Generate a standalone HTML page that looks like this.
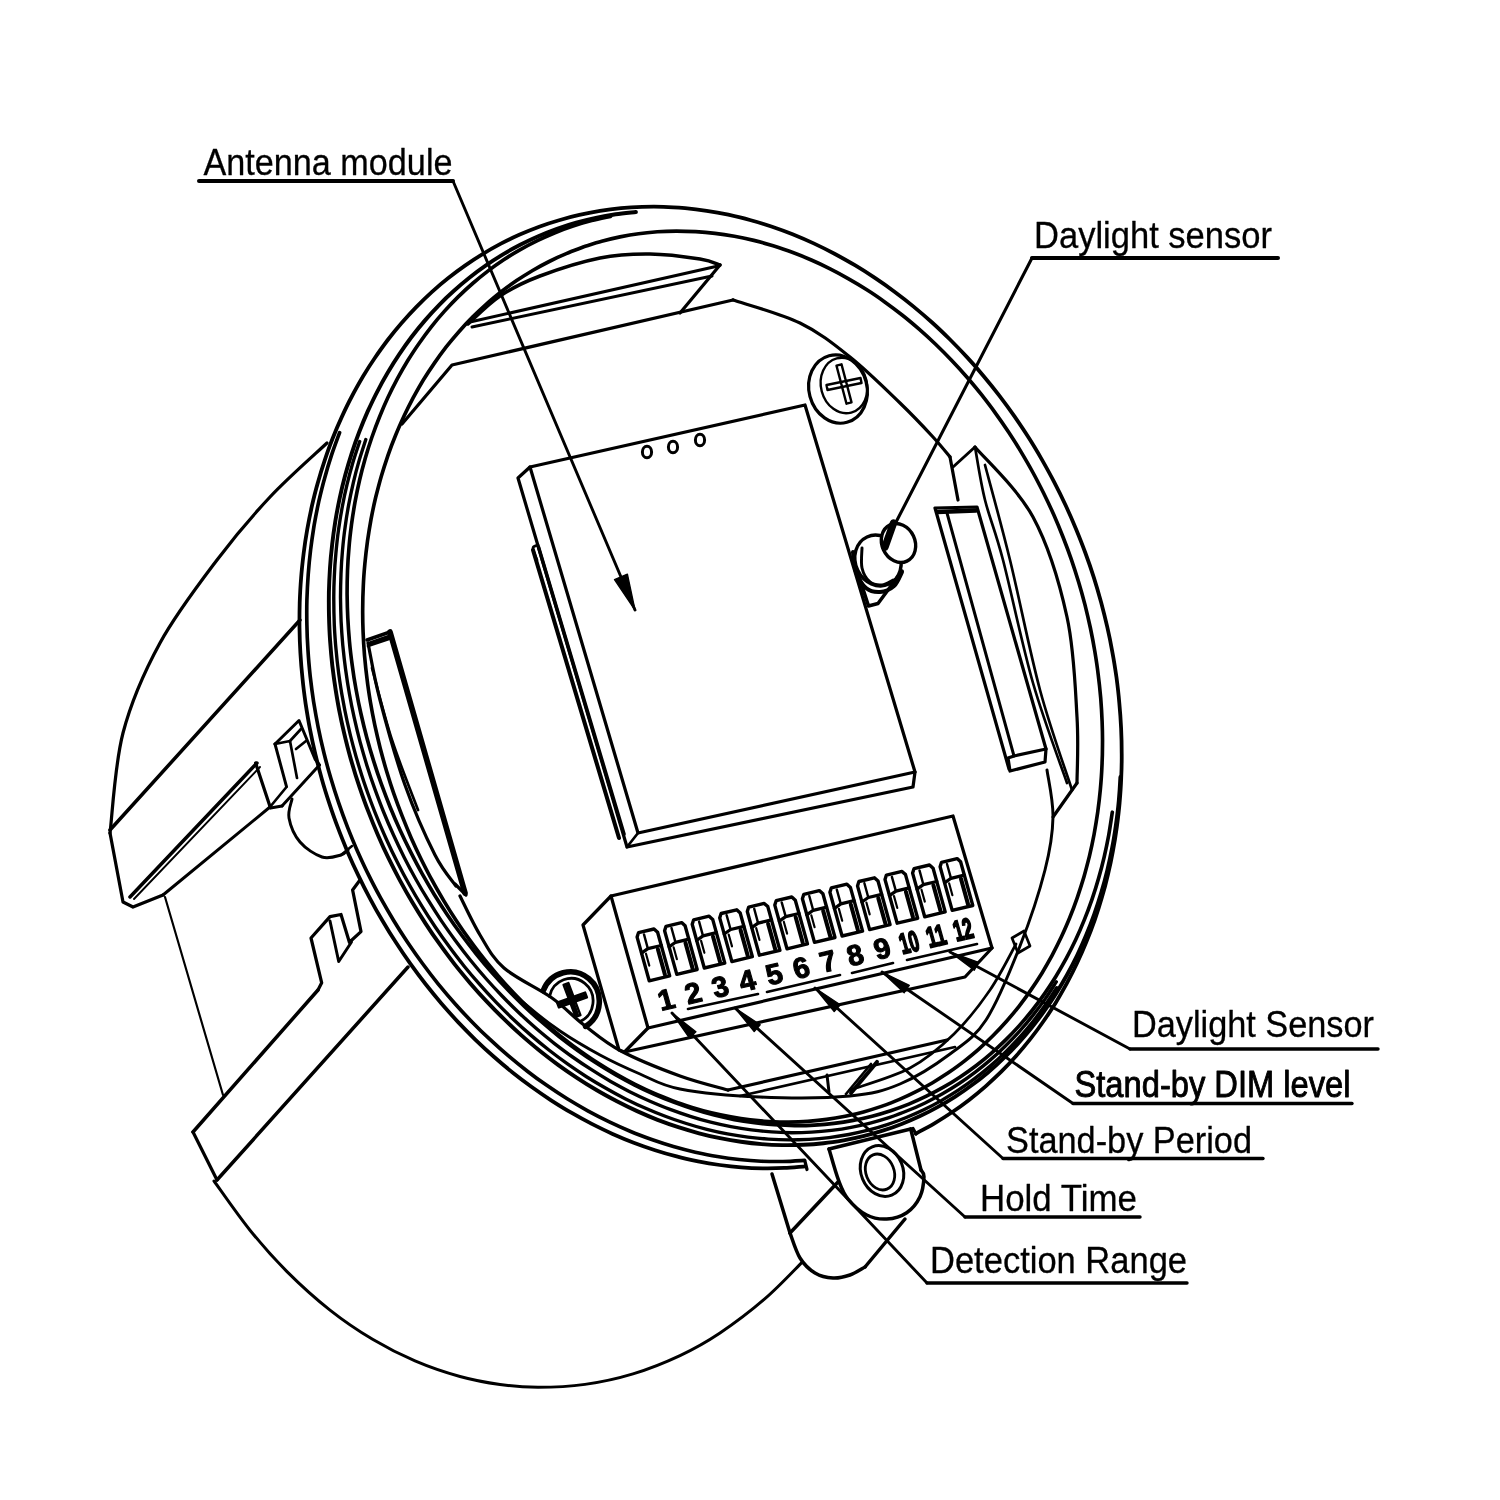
<!DOCTYPE html>
<html><head><meta charset="utf-8"><style>
html,body{margin:0;padding:0;background:#fff;}
svg{display:block;font-family:"Liberation Sans",sans-serif;}
</style></head><body>
<svg width="1500" height="1500" viewBox="0 0 1500 1500" stroke="#000" stroke-linecap="round" stroke-linejoin="round" fill="none">
<defs><filter id="b" x="0" y="0" width="1500" height="1500" filterUnits="userSpaceOnUse"><feGaussianBlur stdDeviation="0.45"/></filter></defs>
<rect x="0" y="0" width="1500" height="1500" fill="#fff" stroke="none"/>
<g filter="url(#b)">
<path d="M805.4,1166.3 C801.8,1166.5 791.3,1167.6 784.2,1167.9 C777.1,1168.3 770.0,1168.4 762.8,1168.3 C755.7,1168.2 748.5,1167.9 741.3,1167.3 C734.2,1166.8 727.0,1166.0 719.8,1165.0 C712.6,1164.0 705.3,1162.8 698.1,1161.4 C690.9,1159.9 683.7,1158.3 676.6,1156.4 C669.4,1154.6 662.2,1152.5 655.1,1150.2 C647.9,1147.9 640.8,1145.4 633.7,1142.7 C626.7,1140.0 619.6,1137.0 612.6,1133.9 C605.6,1130.8 598.7,1127.4 591.8,1123.9 C584.9,1120.4 578.0,1116.6 571.3,1112.7 C564.5,1108.8 557.8,1104.6 551.1,1100.3 C544.5,1096.0 537.9,1091.5 531.4,1086.8 C524.9,1082.1 518.5,1077.2 512.2,1072.2 C505.9,1067.1 499.7,1061.9 493.6,1056.5 C487.5,1051.1 481.4,1045.5 475.5,1039.8 C469.6,1034.0 463.8,1028.1 458.1,1022.1 C452.4,1016.0 446.9,1009.8 441.4,1003.5 C436.0,997.1 430.7,990.6 425.5,984.0 C420.3,977.4 415.2,970.6 410.3,963.7 C405.4,956.8 400.6,949.8 396.0,942.6 C391.3,935.5 386.8,928.2 382.5,920.8 C378.1,913.5 373.9,906.0 369.9,898.4 C365.9,890.9 362.0,883.2 358.3,875.4 C354.6,867.7 351.0,859.8 347.6,851.9 C344.3,844.0 341.0,836.0 338.0,827.9 C334.9,819.9 332.1,811.8 329.4,803.6 C326.7,795.4 324.1,787.2 321.8,778.9 C319.5,770.6 317.3,762.3 315.3,754.0 C313.3,745.6 311.5,737.2 309.9,728.9 C308.3,720.5 306.9,712.0 305.6,703.6 C304.4,695.2 303.3,686.8 302.5,678.4 C301.6,669.9 300.9,661.5 300.4,653.1 C299.9,644.7 299.6,636.3 299.5,627.9 C299.4,619.6 299.5,611.2 299.7,603.0 C300.0,594.7 300.4,586.4 301.1,578.2 C301.7,570.0 302.6,561.8 303.6,553.7 C304.6,545.7 305.8,537.6 307.2,529.7 C308.6,521.7 310.2,513.8 311.9,506.0 C313.7,498.2 315.6,490.5 317.8,482.9 C319.9,475.2 322.2,467.7 324.7,460.3 C327.2,452.9 329.8,445.5 332.7,438.3 C335.5,431.1 338.5,424.0 341.7,417.1 C344.9,410.1 348.2,403.2 351.8,396.5 C355.3,389.8 359.0,383.3 362.8,376.8 C366.6,370.4 370.6,364.1 374.8,358.0 C379.0,351.8 383.3,345.9 387.7,340.0 C392.2,334.2 396.8,328.5 401.6,323.0 C406.3,317.6 411.2,312.2 416.2,307.1 C421.3,301.9 426.4,296.9 431.7,292.1 C437.0,287.3 442.4,282.7 448.0,278.3 C453.5,273.9 459.2,269.6 465.0,265.6 C470.7,261.6 476.6,257.7 482.6,254.1 C488.6,250.4 494.7,247.0 500.9,243.7 C507.1,240.5 513.4,237.4 519.8,234.6 C526.2,231.8 532.7,229.2 539.2,226.8 C545.8,224.3 552.4,222.1 559.1,220.2 C565.8,218.2 572.5,216.4 579.4,214.9 C586.2,213.3 593.1,212.0 600.0,210.9 C607.0,209.8 614.0,208.9 621.0,208.2 C628.0,207.5 635.1,207.1 642.2,206.9 C649.3,206.6 656.4,206.6 663.6,206.8 C670.8,207.0 677.9,207.5 685.1,208.1 C692.3,208.8 699.5,209.7 706.7,210.8 C713.9,211.9 721.1,213.2 728.3,214.7 C735.5,216.3 742.7,218.0 749.9,220.0 C757.1,221.9 764.2,224.1 771.4,226.5 C778.5,228.9 785.6,231.5 792.6,234.3 C799.7,237.2 806.7,240.2 813.7,243.4 C820.7,246.7 827.6,250.1 834.5,253.7 C841.3,257.4 848.2,261.2 854.9,265.2 C861.6,269.2 868.3,273.5 874.9,277.9 C881.5,282.3 888.1,286.9 894.5,291.7 C901.0,296.5 907.3,301.4 913.6,306.6 C919.8,311.7 926.0,317.0 932.1,322.5 C938.2,328.0 944.1,333.7 950.0,339.5 C955.8,345.3 961.6,351.3 967.2,357.4 C972.9,363.5 978.4,369.8 983.7,376.2 C989.1,382.6 994.4,389.2 999.5,395.9 C1004.6,402.6 1009.6,409.4 1014.5,416.4 C1019.3,423.4 1024.1,430.4 1028.6,437.6 C1033.2,444.8 1037.6,452.2 1041.9,459.6 C1046.1,467.0 1050.3,474.5 1054.2,482.1 C1058.2,489.8 1062.0,497.5 1065.6,505.3 C1069.2,513.1 1072.7,521.0 1076.0,528.9 C1079.3,536.9 1082.5,544.9 1085.4,553.0 C1088.4,561.1 1091.2,569.2 1093.8,577.4 C1096.4,585.6 1098.8,593.9 1101.1,602.2 C1103.3,610.5 1105.4,618.8 1107.3,627.2 C1109.2,635.5 1110.9,643.9 1112.4,652.3 C1114.0,660.7 1115.3,669.1 1116.5,677.6 C1117.6,686.0 1118.6,694.4 1119.3,702.8 C1120.1,711.2 1120.7,719.7 1121.1,728.1 C1121.5,736.5 1121.7,744.8 1121.7,753.2 C1121.8,761.5 1121.6,769.9 1121.2,778.1 C1120.9,786.4 1120.3,794.6 1119.6,802.8 C1118.9,811.0 1117.9,819.1 1116.8,827.2 C1115.7,835.2 1114.4,843.2 1112.9,851.2 C1111.5,859.1 1109.8,866.9 1107.9,874.7 C1106.1,882.5 1104.1,890.1 1101.8,897.7 C1099.6,905.3 1097.2,912.8 1094.7,920.1 C1092.1,927.5 1089.3,934.8 1086.4,941.9 C1083.5,949.1 1080.4,956.1 1077.1,963.0 C1073.9,969.9 1070.4,976.7 1066.8,983.4 C1063.2,990.0 1059.5,996.5 1055.6,1002.9 C1051.6,1009.2 1047.6,1015.4 1043.3,1021.5 C1039.1,1027.6 1034.7,1033.5 1030.2,1039.2 C1025.6,1045.0 1021.0,1050.5 1016.1,1056.0 C1011.3,1061.4 1006.4,1066.6 1001.3,1071.7 C996.2,1076.7 990.9,1081.6 985.6,1086.3 C980.2,1091.0 974.7,1095.6 969.1,1099.9 C963.5,1104.2 957.8,1108.4 952.0,1112.3 C946.1,1116.3 940.2,1120.0 934.1,1123.6 C928.1,1127.1 918.8,1131.9 915.7,1133.6" stroke-width="3.78" fill="none" />
<path d="M804.6,1160.4 C801.0,1160.6 790.2,1161.4 782.9,1161.5 C775.7,1161.6 768.4,1161.5 761.1,1161.2 C753.9,1160.9 746.5,1160.3 739.2,1159.5 C731.9,1158.7 724.6,1157.7 717.3,1156.5 C709.9,1155.3 702.6,1153.8 695.3,1152.2 C688.0,1150.5 680.7,1148.6 673.4,1146.5 C666.2,1144.4 658.9,1142.0 651.7,1139.5 C644.5,1136.9 637.3,1134.2 630.1,1131.2 C623.0,1128.2 615.9,1125.0 608.8,1121.6 C601.8,1118.2 594.8,1114.6 587.8,1110.8 C580.9,1107.0 574.0,1103.0 567.2,1098.8 C560.4,1094.6 553.7,1090.2 547.1,1085.6 C540.4,1081.0 533.8,1076.2 527.4,1071.2 C520.9,1066.2 514.5,1061.1 508.2,1055.7 C501.9,1050.4 495.8,1044.9 489.7,1039.2 C483.6,1033.6 477.6,1027.7 471.8,1021.7 C465.9,1015.7 460.2,1009.5 454.6,1003.2 C449.0,996.9 443.5,990.4 438.1,983.8 C432.8,977.2 427.6,970.4 422.5,963.5 C417.4,956.6 412.5,949.6 407.7,942.5 C402.9,935.3 398.2,928.0 393.8,920.7 C389.3,913.3 384.9,905.8 380.7,898.2 C376.6,890.6 372.5,882.9 368.7,875.1 C364.8,867.3 361.2,859.4 357.6,851.4 C354.1,843.5 350.8,835.4 347.6,827.3 C344.4,819.2 341.4,811.0 338.6,802.7 C335.8,794.5 333.2,786.2 330.7,777.8 C328.2,769.5 326.0,761.1 323.9,752.7 C321.8,744.2 319.9,735.8 318.2,727.3 C316.5,718.8 315.0,710.3 313.6,701.8 C312.3,693.2 311.2,684.7 310.2,676.2 C309.3,667.7 308.5,659.1 308.0,650.6 C307.4,642.1 307.0,633.6 306.9,625.1 C306.7,616.7 306.7,608.2 306.9,599.8 C307.2,591.4 307.6,583.0 308.2,574.7 C308.8,566.4 309.6,558.1 310.6,549.9 C311.6,541.6 312.8,533.5 314.1,525.4 C315.5,517.3 317.1,509.3 318.8,501.4 C320.6,493.5 322.5,485.6 324.7,477.9 C326.8,470.1 329.1,462.5 331.6,454.9 C334.1,447.4 338.3,436.3 339.6,432.6" stroke-width="3.65" fill="none" />
<path d="M1120.4,777.0 C1120.2,781.0 1119.5,793.0 1118.8,800.9 C1118.1,808.8 1117.1,816.7 1116.0,824.5 C1114.9,832.3 1113.7,840.1 1112.2,847.7 C1110.7,855.4 1109.1,863.0 1107.3,870.4 C1105.5,877.9 1103.5,885.3 1101.3,892.6 C1099.1,899.9 1096.8,907.1 1094.3,914.2 C1091.8,921.3 1089.1,928.3 1086.2,935.1 C1083.4,942.0 1080.3,948.7 1077.2,955.4 C1074.0,962.0 1070.6,968.5 1067.1,974.8 C1063.6,981.1 1059.9,987.4 1056.1,993.4 C1052.3,999.5 1048.3,1005.4 1044.2,1011.1 C1040.1,1016.9 1035.8,1022.5 1031.4,1028.0 C1027.0,1033.4 1022.4,1038.7 1017.7,1043.8 C1013.0,1048.9 1008.2,1053.9 1003.2,1058.6 C998.3,1063.4 993.2,1068.0 988.0,1072.4 C982.8,1076.8 977.5,1081.0 972.0,1085.0 C966.6,1089.1 961.0,1092.9 955.3,1096.6 C949.7,1100.2 943.9,1103.7 938.0,1106.9 C932.1,1110.2 926.2,1113.2 920.1,1116.1 C914.1,1118.9 907.9,1121.6 901.7,1124.0 C895.4,1126.5 889.1,1128.7 882.7,1130.7 C876.3,1132.8 869.9,1134.6 863.3,1136.2 C856.8,1137.8 850.2,1139.2 843.6,1140.4 C836.9,1141.5 830.2,1142.5 823.5,1143.2 C816.7,1144.0 809.9,1144.5 803.1,1144.8 C796.3,1145.1 789.4,1145.2 782.5,1145.1 C775.6,1145.0 768.7,1144.7 761.7,1144.1 C754.8,1143.6 747.8,1142.8 740.9,1141.8 C733.9,1140.8 727.0,1139.6 720.0,1138.2 C713.0,1136.8 706.1,1135.2 699.1,1133.3 C692.2,1131.5 685.2,1129.4 678.3,1127.2 C671.4,1124.9 664.5,1122.4 657.6,1119.8 C650.7,1117.1 643.9,1114.2 637.1,1111.1 C630.3,1108.1 623.6,1104.8 616.9,1101.3 C610.2,1097.8 603.5,1094.2 596.9,1090.3 C590.3,1086.4 583.8,1082.4 577.3,1078.1 C570.8,1073.9 564.4,1069.5 558.1,1064.9 C551.8,1060.2 545.6,1055.5 539.4,1050.5 C533.3,1045.5 527.2,1040.4 521.2,1035.1 C515.2,1029.8 509.3,1024.3 503.6,1018.7 C497.8,1013.1 492.1,1007.3 486.6,1001.4 C481.0,995.5 475.5,989.4 470.2,983.2 C464.9,976.9 459.6,970.6 454.5,964.1 C449.5,957.6 444.5,951.0 439.7,944.2 C434.8,937.5 430.1,930.6 425.6,923.6 C421.0,916.6 416.6,909.5 412.3,902.3 C408.0,895.1 403.9,887.8 399.9,880.4 C395.9,872.9 392.1,865.4 388.4,857.9 C384.7,850.3 381.2,842.6 377.9,834.9 C374.5,827.1 371.3,819.3 368.3,811.4 C365.2,803.6 362.4,795.6 359.7,787.6 C357.0,779.7 354.4,771.6 352.1,763.5 C349.7,755.5 347.6,747.3 345.6,739.2 C343.6,731.1 341.7,722.9 340.1,714.7 C338.4,706.5 337.0,698.3 335.7,690.1 C334.4,681.9 333.3,673.6 332.3,665.4 C331.4,657.2 330.7,649.0 330.1,640.8 C329.5,632.6 329.2,624.4 329.0,616.3 C328.8,608.2 328.8,600.0 328.9,592.0 C329.1,583.9 329.5,575.9 330.0,567.9 C330.5,559.9 331.3,551.9 332.2,544.1 C333.1,536.2 334.2,528.4 335.4,520.7 C336.7,512.9 338.2,505.3 339.8,497.7 C341.4,490.1 343.2,482.6 345.2,475.2 C347.2,467.8 349.4,460.5 351.7,453.3 C354.0,446.1 356.5,439.0 359.2,432.0 C361.9,425.0 364.7,418.2 367.7,411.4 C370.8,404.7 373.9,398.0 377.3,391.6 C380.6,385.1 384.1,378.7 387.8,372.5 C391.4,366.3 395.2,360.2 399.2,354.3 C403.2,348.4 407.3,342.6 411.5,337.0 C415.8,331.4 420.2,325.9 424.8,320.6 C429.3,315.3 434.0,310.2 438.8,305.3 C443.6,300.3 448.6,295.5 453.7,291.0 C458.7,286.4 464.0,281.9 469.3,277.7 C474.6,273.5 480.0,269.4 485.6,265.6 C491.1,261.7 496.8,258.1 502.6,254.6 C508.3,251.1 514.2,247.9 520.2,244.8 C526.1,241.7 532.2,238.9 538.3,236.2 C544.5,233.5 550.7,231.1 557.0,228.8 C563.3,226.6 569.7,224.5 576.2,222.7 C582.6,220.9 589.2,219.3 595.8,217.9 C602.3,216.5 609.0,215.3 615.7,214.3 C622.4,213.3 632.6,212.4 635.9,212.0" stroke-width="3.92" fill="none" />
<path d="M1056.7,987.7 C1054.8,990.7 1049.1,999.6 1045.1,1005.3 C1041.1,1011.0 1036.9,1016.6 1032.6,1022.0 C1028.3,1027.4 1023.8,1032.6 1019.3,1037.7 C1014.7,1042.7 1010.0,1047.7 1005.1,1052.4 C1000.3,1057.1 995.3,1061.7 990.2,1066.1 C985.1,1070.5 979.9,1074.7 974.6,1078.7 C969.3,1082.7 963.8,1086.5 958.3,1090.2 C952.7,1093.8 947.1,1097.3 941.3,1100.6 C935.6,1103.8 929.7,1106.9 923.8,1109.8 C917.9,1112.6 911.8,1115.3 905.7,1117.8 C899.6,1120.3 893.4,1122.5 887.2,1124.6 C880.9,1126.7 874.6,1128.5 868.2,1130.2 C861.8,1131.8 855.3,1133.3 848.8,1134.5 C842.3,1135.7 835.7,1136.7 829.1,1137.6 C822.5,1138.4 815.8,1139.0 809.1,1139.4 C802.4,1139.7 795.6,1139.9 788.8,1139.9 C782.1,1139.9 775.3,1139.6 768.4,1139.1 C761.6,1138.7 754.8,1138.0 747.9,1137.1 C741.1,1136.3 734.2,1135.2 727.4,1133.9 C720.5,1132.6 713.6,1131.0 706.8,1129.3 C699.9,1127.6 693.1,1125.7 686.3,1123.5 C679.5,1121.4 672.6,1119.1 665.9,1116.5 C659.1,1114.0 652.3,1111.3 645.6,1108.3 C638.9,1105.4 632.2,1102.2 625.6,1098.9 C619.0,1095.6 612.4,1092.1 605.9,1088.3 C599.4,1084.6 592.9,1080.7 586.5,1076.7 C580.1,1072.6 573.7,1068.3 567.5,1063.9 C561.2,1059.4 555.0,1054.8 548.9,1050.0 C542.8,1045.2 536.7,1040.2 530.8,1035.1 C524.8,1030.0 519.0,1024.7 513.2,1019.2 C507.5,1013.8 501.8,1008.2 496.2,1002.4 C490.7,996.7 485.2,990.8 479.9,984.7 C474.6,978.7 469.3,972.5 464.2,966.2 C459.1,959.8 454.1,953.4 449.3,946.8 C444.4,940.2 439.7,933.5 435.1,926.7 C430.5,919.9 426.0,913.0 421.7,905.9 C417.4,898.9 413.2,891.7 409.2,884.5 C405.1,877.3 401.2,869.9 397.5,862.5 C393.7,855.1 390.1,847.6 386.7,840.0 C383.3,832.4 380.0,824.8 376.9,817.1 C373.7,809.3 370.8,801.5 368.0,793.7 C365.2,785.9 362.5,778.0 360.1,770.0 C357.6,762.1 355.3,754.1 353.2,746.1 C351.0,738.1 349.1,730.1 347.3,722.0 C345.5,713.9 343.9,705.8 342.5,697.8 C341.0,689.7 339.8,681.5 338.7,673.4 C337.6,665.3 336.7,657.2 336.0,649.1 C335.2,641.1 334.7,633.0 334.3,624.9 C334.0,616.9 333.8,608.8 333.8,600.8 C333.7,592.8 333.9,584.9 334.3,576.9 C334.6,569.0 335.1,561.1 335.9,553.3 C336.6,545.5 337.4,537.7 338.5,530.0 C339.6,522.3 340.8,514.7 342.2,507.2 C343.6,499.6 345.2,492.1 347.0,484.7 C348.8,477.3 350.7,470.0 352.8,462.8 C354.9,455.6 358.5,445.1 359.7,441.5" stroke-width="3.38" fill="none" />
<path d="M1056.3,981.9 C1054.4,984.8 1048.8,993.7 1044.9,999.4 C1040.9,1005.0 1036.8,1010.5 1032.5,1015.9 C1028.3,1021.2 1023.9,1026.4 1019.4,1031.4 C1014.9,1036.5 1010.2,1041.3 1005.4,1046.0 C1000.7,1050.7 995.7,1055.3 990.7,1059.6 C985.7,1063.9 980.5,1068.1 975.3,1072.1 C970.0,1076.1 964.7,1079.9 959.2,1083.5 C953.7,1087.1 948.1,1090.5 942.5,1093.8 C936.8,1097.0 931.0,1100.0 925.1,1102.9 C919.3,1105.7 913.3,1108.4 907.3,1110.8 C901.3,1113.3 895.1,1115.5 889.0,1117.6 C882.8,1119.6 876.5,1121.4 870.2,1123.1 C863.9,1124.7 857.5,1126.1 851.0,1127.3 C844.6,1128.6 838.1,1129.6 831.5,1130.4 C825.0,1131.2 818.4,1131.8 811.7,1132.1 C805.1,1132.5 798.4,1132.7 791.7,1132.7 C785.0,1132.6 778.3,1132.4 771.6,1131.9 C764.8,1131.4 758.0,1130.8 751.3,1129.9 C744.5,1129.0 737.7,1127.9 730.9,1126.6 C724.1,1125.3 717.4,1123.8 710.6,1122.1 C703.8,1120.4 697.0,1118.5 690.3,1116.3 C683.5,1114.2 676.8,1111.9 670.1,1109.4 C663.4,1106.9 656.7,1104.1 650.0,1101.2 C643.4,1098.3 636.8,1095.2 630.2,1091.9 C623.7,1088.6 617.2,1085.0 610.7,1081.4 C604.2,1077.7 597.8,1073.8 591.5,1069.7 C585.1,1065.7 578.8,1061.4 572.6,1057.0 C566.4,1052.6 560.3,1048.0 554.2,1043.3 C548.2,1038.5 542.2,1033.6 536.3,1028.5 C530.4,1023.4 524.6,1018.1 518.9,1012.7 C513.2,1007.3 507.6,1001.7 502.1,996.0 C496.6,990.3 491.2,984.5 485.9,978.5 C480.6,972.5 475.4,966.3 470.3,960.0 C465.3,953.8 460.3,947.3 455.5,940.8 C450.7,934.3 446.0,927.6 441.4,920.9 C436.9,914.1 432.5,907.2 428.2,900.2 C423.9,893.3 419.7,886.2 415.7,879.0 C411.7,871.8 407.8,864.5 404.1,857.2 C400.4,849.8 396.8,842.3 393.4,834.8 C390.0,827.3 386.7,819.7 383.6,812.0 C380.5,804.4 377.6,796.6 374.8,788.9 C372.0,781.1 369.4,773.3 366.9,765.4 C364.5,757.5 362.2,749.6 360.0,741.6 C357.9,733.7 356.0,725.7 354.2,717.7 C352.4,709.7 350.8,701.7 349.4,693.7 C347.9,685.6 346.7,677.6 345.6,669.5 C344.5,661.5 343.6,653.5 342.8,645.4 C342.1,637.4 341.5,629.4 341.1,621.4 C340.8,613.4 340.6,605.4 340.5,597.5 C340.5,589.6 340.7,581.6 341.0,573.8 C341.3,565.9 341.8,558.1 342.5,550.4 C343.2,542.6 344.0,534.9 345.1,527.3 C346.1,519.6 347.3,512.1 348.7,504.6 C350.1,497.1 351.7,489.7 353.4,482.3 C355.1,475.0 357.0,467.8 359.1,460.6 C361.2,453.5 364.7,443.0 365.8,439.5" stroke-width="3.38" fill="none" />
<path d="M1112.3,812.2 C1111.7,816.0 1110.1,827.3 1108.8,834.7 C1107.4,842.2 1105.9,849.5 1104.2,856.8 C1102.5,864.1 1100.6,871.3 1098.6,878.3 C1096.6,885.4 1094.4,892.4 1092.0,899.3 C1089.6,906.2 1087.1,913.0 1084.4,919.6 C1081.7,926.3 1078.9,932.9 1075.9,939.3 C1072.9,945.7 1069.7,952.0 1066.4,958.2 C1063.0,964.4 1059.6,970.4 1056.0,976.3 C1052.3,982.2 1048.6,988.0 1044.6,993.6 C1040.7,999.2 1036.7,1004.7 1032.5,1010.0 C1028.3,1015.3 1024.0,1020.4 1019.5,1025.4 C1015.0,1030.4 1010.5,1035.2 1005.7,1039.9 C1001.0,1044.5 996.2,1049.0 991.2,1053.3 C986.3,1057.6 981.2,1061.7 976.0,1065.7 C970.8,1069.6 965.5,1073.4 960.1,1077.0 C954.7,1080.6 949.2,1084.0 943.5,1087.2 C937.9,1090.4 932.2,1093.4 926.4,1096.2 C920.7,1099.0 914.8,1101.6 908.8,1104.1 C902.8,1106.5 896.8,1108.7 890.7,1110.7 C884.6,1112.7 878.4,1114.6 872.1,1116.2 C865.9,1117.8 859.5,1119.2 853.2,1120.4 C846.8,1121.6 840.4,1122.6 833.9,1123.4 C827.4,1124.2 820.9,1124.7 814.3,1125.1 C807.8,1125.5 801.2,1125.7 794.6,1125.6 C787.9,1125.6 781.3,1125.3 774.6,1124.8 C767.9,1124.4 761.2,1123.7 754.5,1122.8 C747.8,1121.9 741.1,1120.9 734.4,1119.6 C727.7,1118.3 721.0,1116.8 714.2,1115.1 C707.5,1113.4 700.8,1111.4 694.2,1109.3 C687.5,1107.2 680.8,1104.9 674.2,1102.4 C667.5,1099.9 660.9,1097.2 654.3,1094.3 C647.8,1091.4 641.2,1088.3 634.7,1085.0 C628.2,1081.7 621.8,1078.2 615.4,1074.6 C609.0,1070.9 602.6,1067.1 596.3,1063.0 C590.1,1059.0 583.8,1054.8 577.7,1050.4 C571.5,1046.0 565.4,1041.4 559.4,1036.7 C553.4,1032.0 547.5,1027.1 541.7,1022.0 C535.8,1017.0 530.1,1011.8 524.4,1006.4 C518.8,1001.0 513.2,995.5 507.8,989.8 C502.3,984.1 496.9,978.3 491.7,972.4 C486.4,966.4 481.3,960.3 476.3,954.1 C471.3,947.8 466.4,941.5 461.6,935.0 C456.8,928.5 452.1,921.9 447.6,915.2 C443.1,908.5 438.7,901.6 434.4,894.7 C430.2,887.8 426.1,880.7 422.1,873.6 C418.1,866.5 414.3,859.2 410.6,851.9 C406.9,844.6 403.3,837.2 399.9,829.8 C396.5,822.3 393.3,814.8 390.2,807.2 C387.1,799.6 384.2,791.9 381.4,784.2 C378.6,776.4 376.0,768.7 373.6,760.9 C371.1,753.0 368.8,745.2 366.7,737.3 C364.6,729.4 362.7,721.5 360.9,713.5 C359.1,705.6 357.5,697.6 356.1,689.7 C354.6,681.7 353.3,673.7 352.3,665.7 C351.2,657.8 350.2,649.8 349.5,641.8 C348.8,633.8 348.2,625.9 347.8,618.0 C347.4,610.0 347.2,602.1 347.1,594.2 C347.1,586.4 347.2,578.5 347.5,570.7 C347.8,562.9 348.3,555.2 349.0,547.5 C349.6,539.8 350.5,532.2 351.5,524.6 C352.5,517.0 353.7,509.5 355.0,502.1 C356.4,494.6 357.9,487.3 359.6,480.0 C361.3,472.7 363.2,465.5 365.2,458.5 C367.2,451.4 369.4,444.4 371.8,437.5 C374.2,430.6 376.7,423.8 379.4,417.2 C382.1,410.5 384.9,403.9 387.9,397.5 C390.9,391.1 394.1,384.8 397.4,378.6 C400.8,372.4 404.2,366.4 407.8,360.5 C411.5,354.6 415.2,348.8 419.2,343.2 C423.1,337.6 427.1,332.1 431.3,326.8 C435.5,321.5 439.8,316.4 444.3,311.4 C448.8,306.4 453.3,301.6 458.1,296.9 C462.8,292.3 467.6,287.8 472.6,283.5 C477.5,279.2 482.6,275.1 487.8,271.1 C493.0,267.2 498.3,263.4 503.7,259.8 C509.1,256.2 514.6,252.8 520.3,249.6 C525.9,246.4 531.6,243.4 537.4,240.6 C543.1,237.8 549.0,235.2 555.0,232.7 C561.0,230.3 567.0,228.1 573.1,226.1 C579.2,224.1 585.4,222.2 591.7,220.6 C597.9,219.0 607.5,217.1 610.6,216.4" stroke-width="3.65" fill="none" />
<path d="M583.8,246.8 C586.8,245.9 595.7,242.9 601.7,241.3 C607.7,239.6 613.8,238.2 620.0,236.9 C626.1,235.7 632.4,234.6 638.6,233.8 C644.8,232.9 651.1,232.3 657.4,231.8 C663.8,231.4 670.1,231.2 676.5,231.1 C682.9,231.1 689.3,231.3 695.7,231.6 C702.1,232.0 708.6,232.6 715.0,233.4 C721.5,234.1 727.9,235.1 734.4,236.3 C740.9,237.5 747.3,238.9 753.8,240.4 C760.2,242.0 766.6,243.8 773.1,245.8 C779.5,247.8 785.9,249.9 792.2,252.3 C798.6,254.7 805.0,257.2 811.3,260.0 C817.6,262.7 823.9,265.7 830.1,268.8 C836.3,271.9 842.5,275.3 848.6,278.8 C854.7,282.2 860.8,285.9 866.8,289.8 C872.9,293.6 878.8,297.7 884.7,301.9 C890.6,306.1 896.4,310.5 902.1,315.0 C907.9,319.5 913.5,324.3 919.1,329.1 C924.7,334.0 930.2,339.0 935.6,344.2 C941.0,349.4 946.3,354.7 951.5,360.2 C956.7,365.6 961.8,371.2 966.8,377.0 C971.8,382.8 976.7,388.6 981.5,394.7 C986.2,400.7 990.9,406.8 995.4,413.1 C1000.0,419.4 1004.4,425.8 1008.7,432.3 C1013.0,438.8 1017.2,445.4 1021.2,452.1 C1025.2,458.8 1029.2,465.6 1032.9,472.5 C1036.7,479.4 1040.3,486.5 1043.8,493.5 C1047.3,500.6 1050.7,507.8 1053.9,515.0 C1057.1,522.3 1060.1,529.6 1063.0,537.0 C1065.9,544.4 1068.7,551.8 1071.3,559.3 C1073.9,566.8 1076.3,574.4 1078.6,582.0 C1080.9,589.6 1083.0,597.2 1085.0,604.9 C1086.9,612.6 1088.7,620.3 1090.4,628.0 C1092.0,635.7 1093.5,643.5 1094.8,651.2 C1096.1,659.0 1097.3,666.8 1098.2,674.6 C1099.2,682.3 1100.0,690.1 1100.7,697.9 C1101.3,705.6 1101.8,713.4 1102.1,721.1 C1102.4,728.9 1102.6,736.6 1102.5,744.3 C1102.5,751.9 1102.3,759.6 1101.9,767.2 C1101.6,774.8 1101.0,782.4 1100.3,789.9 C1099.6,797.4 1098.7,804.9 1097.7,812.3 C1096.6,819.7 1095.4,827.1 1094.1,834.3 C1092.7,841.6 1091.2,848.8 1089.5,855.9 C1087.7,863.0 1085.9,870.1 1083.9,877.0 C1081.8,884.0 1079.6,890.8 1077.3,897.6 C1075.0,904.3 1072.5,911.0 1069.8,917.5 C1067.2,924.0 1064.3,930.5 1061.4,936.8 C1058.4,943.1 1055.3,949.3 1052.1,955.4 C1048.8,961.4 1045.4,967.4 1041.9,973.2 C1038.3,979.0 1034.6,984.6 1030.8,990.1 C1027.0,995.7 1023.0,1001.1 1019.0,1006.3 C1014.9,1011.5 1010.6,1016.6 1006.3,1021.5 C1002.0,1026.4 997.5,1031.2 992.9,1035.8 C988.3,1040.4 983.6,1044.8 978.8,1049.1 C974.0,1053.4 969.0,1057.4 964.0,1061.4 C959.0,1065.3 953.8,1069.0 948.6,1072.6 C943.3,1076.1 938.0,1079.5 932.6,1082.7 C927.1,1085.9 921.6,1088.9 916.0,1091.7 C910.4,1094.6 904.7,1097.2 898.9,1099.6 C893.2,1102.1 887.3,1104.3 881.4,1106.4 C875.5,1108.4 869.5,1110.3 863.5,1111.9 C857.5,1113.6 851.4,1115.0 845.2,1116.3 C839.1,1117.5 832.8,1118.6 826.6,1119.4 C820.4,1120.3 814.1,1120.9 807.8,1121.4 C801.4,1121.8 795.1,1122.0 788.7,1122.1 C782.3,1122.1 775.9,1121.9 769.5,1121.6 C763.1,1121.2 756.6,1120.6 750.2,1119.8 C743.7,1119.1 737.3,1118.1 730.8,1116.9 C724.3,1115.7 717.9,1114.3 711.4,1112.8 C705.0,1111.2 698.6,1109.4 692.1,1107.4 C685.7,1105.4 679.3,1103.3 673.0,1100.9 C666.6,1098.5 660.2,1096.0 653.9,1093.2 C647.6,1090.5 641.3,1087.5 635.1,1084.4 C628.9,1081.3 622.7,1077.9 616.6,1074.4 C610.5,1071.0 604.4,1067.3 598.4,1063.4 C592.3,1059.6 586.4,1055.5 580.5,1051.3 C574.6,1047.1 568.8,1042.7 563.1,1038.2 C557.3,1033.7 551.7,1028.9 546.1,1024.1 C540.5,1019.2 535.0,1014.2 529.6,1009.0 C524.2,1003.8 518.9,998.5 513.7,993.0 C508.5,987.6 503.4,982.0 498.4,976.2 C493.4,970.4 488.5,964.6 483.7,958.5 C479.0,952.5 474.3,946.4 469.8,940.1 C465.2,933.8 460.8,927.4 456.5,920.9 C452.2,914.4 448.0,907.8 444.0,901.1 C440.0,894.4 436.0,887.6 432.3,880.7 C428.5,873.8 424.9,866.7 421.4,859.7 C417.9,852.6 414.5,845.4 411.3,838.2 C408.1,830.9 405.1,823.6 402.2,816.2 C399.3,808.8 396.5,801.4 393.9,793.9 C391.3,786.4 388.9,778.8 386.6,771.2 C384.3,763.6 382.2,756.0 380.2,748.3 C378.3,740.6 376.5,732.9 374.8,725.2 C373.2,717.5 371.7,709.7 370.4,702.0 C369.1,694.2 367.9,686.4 367.0,678.6 C366.0,670.9 365.2,663.1 364.5,655.3 C363.9,647.6 363.4,639.8 363.1,632.1 C362.8,624.3 362.6,616.6 362.7,608.9 C362.7,601.3 362.9,593.6 363.3,586.0 C363.6,578.4 364.2,570.8 364.9,563.3 C365.6,555.8 366.5,548.3 367.5,540.9 C368.6,533.5 369.8,526.1 371.1,518.9 C372.5,511.6 374.0,504.4 375.7,497.3 C377.5,490.2 379.3,483.1 381.3,476.2 C383.4,469.2 385.6,462.4 387.9,455.6 C390.2,448.9 392.7,442.2 395.4,435.7 C398.0,429.2 400.9,422.7 403.8,416.4 C406.8,410.1 409.9,403.9 413.1,397.8 C416.4,391.8 419.8,385.8 423.3,380.0 C426.9,374.2 430.6,368.6 434.4,363.1 C438.2,357.5 442.2,352.1 446.2,346.9 C450.3,341.7 454.6,336.6 458.9,331.7 C463.2,326.8 467.7,322.0 472.3,317.4 C476.9,312.8 481.6,308.4 486.4,304.1 C491.2,299.8 496.2,295.8 501.2,291.8 C506.2,287.9 511.4,284.2 516.6,280.6 C521.9,277.1 527.2,273.7 532.6,270.5 C538.1,267.3 543.6,264.3 549.2,261.5 C554.8,258.6 560.5,256.0 566.3,253.6 C572.0,251.1 580.9,248.0 583.8,246.8" stroke-width="3.65" fill="none" />
<text x="203.5" y="175" font-size="36" font-weight="normal" text-anchor="start" stroke="none" fill="#000" textLength="249.0" lengthAdjust="spacingAndGlyphs" style="stroke:#000;stroke-width:0.3">Antenna module</text>
<path d="M199.0,181.0 L453.0,181.0" stroke-width="4.05" fill="none" />
<text x="1034" y="248" font-size="36" font-weight="normal" text-anchor="start" stroke="none" fill="#000" textLength="238" lengthAdjust="spacingAndGlyphs" style="stroke:#000;stroke-width:0.3">Daylight sensor</text>
<path d="M1032.0,258.0 L1278.0,258.0" stroke-width="4.05" fill="none" />
<text x="1132" y="1037" font-size="36" font-weight="normal" text-anchor="start" stroke="none" fill="#000" textLength="242" lengthAdjust="spacingAndGlyphs" style="stroke:#000;stroke-width:0.3">Daylight Sensor</text>
<path d="M1130.0,1049.0 L1378.0,1049.0" stroke-width="3.38" fill="none" />
<text x="1074.5" y="1097" font-size="36" font-weight="normal" text-anchor="start" stroke="none" fill="#000" textLength="276.0" lengthAdjust="spacingAndGlyphs" style="stroke:#000;stroke-width:0.9">Stand-by DIM level</text>
<path d="M1073.0,1103.5 L1352.0,1103.5" stroke-width="3.38" fill="none" />
<text x="1006" y="1153" font-size="36" font-weight="normal" text-anchor="start" stroke="none" fill="#000" textLength="246" lengthAdjust="spacingAndGlyphs" style="stroke:#000;stroke-width:0.3">Stand-by Period</text>
<path d="M1003.0,1158.5 L1263.0,1158.5" stroke-width="3.38" fill="none" />
<text x="980" y="1211" font-size="36" font-weight="normal" text-anchor="start" stroke="none" fill="#000" textLength="157" lengthAdjust="spacingAndGlyphs" style="stroke:#000;stroke-width:0.3">Hold Time</text>
<path d="M965.0,1217.0 L1140.0,1217.0" stroke-width="3.38" fill="none" />
<text x="930" y="1273" font-size="36" font-weight="normal" text-anchor="start" stroke="none" fill="#000" textLength="257" lengthAdjust="spacingAndGlyphs" style="stroke:#000;stroke-width:0.3">Detection Range</text>
<path d="M927.0,1283.0 L1187.0,1283.0" stroke-width="3.38" fill="none" />
<path d="M453.0,181.0 L635.0,610.0" stroke-width="2.90" fill="none" />
<path d="M635.0,610.0 L627.4,574.1 L614.5,579.6 Z" stroke-width="1.35" fill="#000" />
<path d="M1130.0,1049.0 L950.0,952.0" stroke-width="2.90" fill="none" />
<path d="M950.0,952.0 L974.3,970.2 L978.5,962.3 Z" stroke-width="1.35" fill="#000" />
<path d="M1073.0,1103.5 L882.0,972.0" stroke-width="2.90" fill="none" />
<path d="M882.0,972.0 L904.2,992.7 L909.3,985.3 Z" stroke-width="1.35" fill="#000" />
<path d="M1003.0,1158.5 L815.0,988.0" stroke-width="2.90" fill="none" />
<path d="M815.0,988.0 L834.2,1011.5 L840.2,1004.8 Z" stroke-width="1.35" fill="#000" />
<path d="M965.0,1217.0 L735.0,1008.0" stroke-width="2.90" fill="none" />
<path d="M735.0,1008.0 L754.2,1031.5 L760.2,1024.8 Z" stroke-width="1.35" fill="#000" />
<path d="M927.0,1283.0 L672.0,1013.0" stroke-width="2.90" fill="none" />
<path d="M672.0,1013.0 L689.3,1037.9 L695.9,1031.7 Z" stroke-width="1.35" fill="#000" />
<path d="M327.0,443.0 C317.5,452.0 288.3,477.5 270.0,497.0 C251.7,516.5 235.3,535.7 217.0,560.0 C198.7,584.3 175.7,614.2 160.0,643.0 C144.3,671.8 131.3,701.3 123.0,733.0 C114.7,764.7 112.2,816.3 110.0,833.0" stroke-width="3.24" fill="none" />
<path d="M300.0,620.0 L110.0,830.0" stroke-width="3.51" fill="none" />
<path d="M110.0,833.0 L123.0,902.0 L133.0,907.0 L163.0,895.0" stroke-width="3.24" fill="none" />
<path d="M130.0,897.0 L257.0,763.0" stroke-width="3.51" fill="none" />
<path d="M134.0,899.0 L260.0,767.0" stroke-width="1.89" fill="none" />
<path d="M255.6,763.0 L270.5,808.0 L282.0,806.0" stroke-width="3.24" fill="none" />
<path d="M163.0,895.0 L270.0,807.0" stroke-width="2.97" fill="none" />
<path d="M165.0,897.0 L223.0,1095.0" stroke-width="2.16" fill="none" />
<path d="M193.0,1132.0 L318.0,990.0" stroke-width="3.51" fill="none" />
<path d="M217.0,1180.0 L408.0,967.0" stroke-width="3.51" fill="none" />
<path d="M193.0,1132.0 L217.0,1180.0" stroke-width="3.24" fill="none" />
<path d="M214.0,1181.0 C220.0,1189.2 237.8,1215.1 250.0,1230.2 C262.2,1245.3 273.7,1258.3 287.0,1271.6 C300.3,1284.9 315.7,1298.8 330.0,1310.1 C344.3,1321.4 358.8,1331.1 373.0,1339.6 C387.2,1348.1 400.5,1354.8 415.0,1360.9 C429.5,1367.1 445.8,1372.6 460.0,1376.5 C474.2,1380.4 487.0,1382.7 500.0,1384.5 C513.0,1386.3 523.8,1387.3 538.0,1387.3 C552.2,1387.3 569.2,1386.6 585.0,1384.4 C600.8,1382.2 617.2,1378.7 633.0,1373.9 C648.8,1369.1 665.5,1362.4 680.0,1355.6 C694.5,1348.8 705.8,1342.5 720.0,1333.0 C734.2,1323.5 751.3,1310.5 765.0,1298.7 C778.7,1286.9 795.8,1268.5 802.0,1262.4" stroke-width="2.97" fill="none" />
<path d="M402.0,424.0 L452.0,365.0 L733.0,300.0" stroke-width="3.24" fill="none" />
<path d="M733.0,300.0 C744.2,303.8 780.5,313.5 800.0,323.0 C819.5,332.5 833.3,343.7 850.0,357.0 C866.7,370.3 886.2,389.7 900.0,403.0 C913.8,416.3 924.7,428.0 933.0,437.0 C941.3,446.0 947.2,453.7 950.0,457.0" stroke-width="3.24" fill="none" />
<path d="M950.0,457.0 L958.0,500.0" stroke-width="3.24" fill="none" />
<path d="M1047.0,770.0 C1048.0,777.8 1053.3,800.3 1053.0,817.0 C1052.7,833.7 1050.5,848.5 1045.0,870.0 C1039.5,891.5 1029.8,921.0 1020.0,946.0 C1010.2,971.0 997.7,1002.0 986.0,1020.0 C974.3,1038.0 964.3,1043.3 950.0,1054.0 C935.7,1064.7 916.7,1077.0 900.0,1084.0 C883.3,1091.0 873.3,1093.8 850.0,1096.0 C826.7,1098.2 788.3,1098.2 760.0,1097.0 C731.7,1095.8 700.0,1092.8 680.0,1089.0 C660.0,1085.2 653.3,1079.7 640.0,1074.0 C626.7,1068.3 613.3,1062.2 600.0,1055.0 C586.7,1047.8 572.5,1039.5 560.0,1031.0 C547.5,1022.5 535.5,1013.0 525.0,1004.0 C514.5,995.0 501.7,981.5 497.0,977.0" stroke-width="2.97" fill="none" />
<path d="M1016.0,944.0 C1011.7,951.7 1000.3,975.0 990.0,990.0 C979.7,1005.0 967.3,1021.0 954.0,1034.0 C940.7,1047.0 927.3,1058.7 910.0,1068.0 C892.7,1077.3 860.0,1086.3 850.0,1090.0" stroke-width="2.70" fill="none" />
<path d="M1012.0,938.0 L1024.0,931.0 L1030.0,946.0 L1018.0,953.0 Z" stroke-width="2.70" fill="none" />
<path d="M460.0,896.0 C463.3,902.5 472.7,923.0 480.0,935.0 C487.3,947.0 492.0,957.5 504.0,968.0 C516.0,978.5 538.7,988.5 552.0,998.0 C565.3,1007.5 572.5,1016.2 584.0,1025.0 C595.5,1033.8 605.0,1042.5 621.0,1051.0 C637.0,1059.5 662.2,1069.5 680.0,1076.0 C697.8,1082.5 720.0,1087.7 728.0,1090.0" stroke-width="3.24" fill="none" />
<path d="M728.0,1090.0 L947.0,1040.0" stroke-width="3.24" fill="none" />
<path d="M740.0,1096.0 L955.0,1047.0" stroke-width="2.70" fill="none" />
<path d="M468.0,324.0 C473.3,319.3 488.0,304.0 500.0,296.0 C512.0,288.0 523.3,282.3 540.0,276.0 C556.7,269.7 581.7,261.7 600.0,258.0 C618.3,254.3 633.3,253.8 650.0,254.0 C666.7,254.2 688.3,257.2 700.0,259.0 C711.7,260.8 716.7,264.0 720.0,265.0" stroke-width="3.51" fill="none" />
<path d="M470.0,322.0 L718.0,266.0" stroke-width="2.97" fill="none" />
<path d="M472.0,327.0 L712.0,276.0" stroke-width="2.97" fill="none" />
<path d="M720.0,265.0 L680.0,313.0" stroke-width="3.24" fill="none" />
<path d="M530.0,467.0 L805.0,405.0 L915.0,772.0 L638.0,833.0 Z" stroke-width="3.24" fill="none" />
<path d="M530.0,467.0 L518.0,478.0 L627.0,847.0 L913.0,787.0 L915.0,772.0" stroke-width="3.24" fill="none" />
<path d="M627.0,847.0 L638.0,833.0" stroke-width="2.70" fill="none" />
<path d="M537.0,560.0 C536.3,558.0 532.8,550.5 533.0,548.0 C533.2,545.5 537.2,545.5 538.0,545.0" stroke-width="2.70" fill="none" />
<path d="M533.0,550.0 L619.0,838.0" stroke-width="4.05" fill="none" />
<path d="M538.5,547.0 L624.0,834.0" stroke-width="3.51" fill="none" />
<ellipse cx="647" cy="452" rx="4.6" ry="5.8" stroke-width="3"/>
<ellipse cx="673" cy="447" rx="4.6" ry="5.8" stroke-width="3"/>
<ellipse cx="700" cy="440" rx="4.6" ry="5.8" stroke-width="3"/>
<path d="M367.0,640.0 L390.0,632.0" stroke-width="3.51" fill="none" />
<path d="M368.0,646.0 L389.0,639.0" stroke-width="2.70" fill="none" />
<path d="M390.0,632.0 L465.0,893.0" stroke-width="5.67" fill="none" />
<path d="M455.0,884.0 L466.0,895.0" stroke-width="3.24" fill="none" />
<path d="M368.0,643.0 C370.0,652.5 373.8,676.3 380.0,700.0 C386.2,723.7 395.8,759.2 405.0,785.0 C414.2,810.8 426.5,838.2 435.0,855.0 C443.5,871.8 452.5,880.8 456.0,886.0" stroke-width="3.24" fill="none" />
<path d="M372.0,668.0 C375.3,680.0 384.3,716.3 392.0,740.0 C399.7,763.7 413.7,798.3 418.0,810.0" stroke-width="2.70" fill="none" />
<path d="M1009.0,769.0 L935.0,508.0 L977.0,507.0 L1046.0,749.0" stroke-width="3.24" fill="none" />
<path d="M947.0,513.0 L1014.0,756.0" stroke-width="2.97" fill="none" />
<path d="M1014.0,756.0 L1046.0,749.0 L1045.0,762.0 L1010.0,771.0 L1008.0,758.0 Z" stroke-width="3.24" fill="none" />
<path d="M953.0,467.0 L975.0,447.0" stroke-width="2.97" fill="none" />
<path d="M975.0,447.0 C984.7,458.7 1017.7,488.7 1033.0,517.0 C1048.3,545.3 1059.7,583.7 1067.0,617.0 C1074.3,650.3 1075.3,689.3 1077.0,717.0 C1078.7,744.7 1077.0,772.0 1077.0,783.0" stroke-width="3.24" fill="none" />
<path d="M1077.0,783.0 L1053.0,817.0" stroke-width="3.24" fill="none" />
<path d="M975.0,447.0 C976.7,455.8 980.3,481.2 985.0,500.0 C989.7,518.8 995.0,529.5 1003.0,560.0 C1011.0,590.5 1022.3,645.8 1033.0,683.0 C1043.7,720.2 1061.3,766.3 1067.0,783.0" stroke-width="2.70" fill="none" />
<path d="M985.0,465.0 C989.2,480.8 1000.8,522.5 1010.0,560.0 C1019.2,597.5 1029.7,651.7 1040.0,690.0 C1050.3,728.3 1066.7,773.3 1072.0,790.0" stroke-width="2.70" fill="none" />
<ellipse cx="838" cy="389" rx="29" ry="34.5" stroke-width="3.2" transform="rotate(-15 838 389)"/>
<ellipse cx="844" cy="385.5" rx="23" ry="28" stroke-width="2.4" transform="rotate(-15 844 385.5)"/>
<path d="M827.5,390.0 L861.5,383.0 L860.5,378.0 L826.5,385.0 Z" stroke-width="2.43" fill="none" />
<path d="M836.5,365.7 L846.5,403.7 L851.5,402.3 L841.5,364.3 Z" stroke-width="2.43" fill="none" />
<path d="M543.3,990.6 A29,29.5 0 1 1 585.6,1026.4" stroke-width="5.6"/><path d="M549.5,996.5 A22,22.5 0 1 1 580,1021.5" stroke-width="2.8"/>
<path d="M558.9,1007.4 L586.9,997.4 L585.1,992.6 L557.1,1002.6 Z" stroke-width="2.43" fill="none" />
<path d="M563.6,984.9 L575.6,1016.9 L580.4,1015.1 L568.4,983.1 Z" stroke-width="2.43" fill="none" />
<path d="M560.0,1004.0 L584.0,996.0" stroke-width="4.32" fill="none" />
<path d="M567.0,986.0 L577.0,1015.0" stroke-width="4.05" fill="none" />
<ellipse cx="878" cy="560.5" rx="22.5" ry="26" stroke-width="3.4" transform="rotate(-25 878 560.5)" fill="#fff"/>
<path d="M862.0,548.0 C862.0,551.3 860.7,562.3 862.0,568.0 C863.3,573.7 866.7,579.2 870.0,582.0 C873.3,584.8 878.2,585.3 882.0,585.0 C885.8,584.7 891.2,580.8 893.0,580.0" stroke-width="2.97" fill="none" />
<path d="M853.0,552.0 C853.5,555.3 853.8,566.0 856.0,572.0 C858.2,578.0 862.0,584.7 866.0,588.0 C870.0,591.3 875.3,592.3 880.0,592.0 C884.7,591.7 890.3,589.3 894.0,586.0 C897.7,582.7 900.7,574.3 902.0,572.0" stroke-width="4.05" fill="none" />
<path d="M859.5,578.0 L868.5,606.0 L878.0,603.5 L902.0,571.0" stroke-width="3.51" fill="none" />
<ellipse cx="898.5" cy="543" rx="16.5" ry="20" stroke-width="3.4" transform="rotate(-25 898.5 543)" fill="#fff"/>
<path d="M893.5,523.0 L885.0,547.0" stroke-width="7.43" fill="none" />
<path d="M1032.0,258.0 L893.0,528.0" stroke-width="3.10" fill="none" />
<path d="M611.0,896.0 L953.0,816.0 L992.0,948.0 L648.0,1028.0 Z" stroke-width="3.24" fill="none" />
<path d="M611.0,896.0 L583.0,925.0 L619.0,1050.0 L624.5,1052.0 L648.0,1028.0" stroke-width="3.24" fill="none" />
<path d="M624.5,1052.0 L965.0,977.0 L992.0,948.0" stroke-width="3.24" fill="none" />
<path d="M649.2,980.8 L637.1,937.1 L638.5,932.7 L654.0,929.0 L657.6,932.2 L669.7,975.9 Z" stroke-width="3.38" fill="none" />
<path d="M641.5,953.2 L647.9,948.7 L661.3,945.5" stroke-width="3.24" fill="none" />
<path d="M644.0,934.4 L647.9,948.7" stroke-width="2.43" fill="none" />
<path d="M657.9,949.3 L664.9,974.5" stroke-width="4.05" fill="none" />
<path d="M646.0,953.7 L649.3,965.6" stroke-width="2.16" fill="none" />
<path d="M676.8,974.4 L664.6,930.7 L666.0,926.3 L681.6,922.6 L685.1,925.8 L697.2,969.5 Z" stroke-width="3.38" fill="none" />
<path d="M669.1,946.9 L675.5,942.3 L688.8,939.1" stroke-width="3.24" fill="none" />
<path d="M671.5,928.0 L675.5,942.3" stroke-width="2.43" fill="none" />
<path d="M685.5,942.9 L692.5,968.1" stroke-width="4.05" fill="none" />
<path d="M673.6,947.3 L676.9,959.2" stroke-width="2.16" fill="none" />
<path d="M704.3,968.0 L692.2,924.3 L693.6,919.9 L709.1,916.2 L712.7,919.4 L724.8,963.1 Z" stroke-width="3.38" fill="none" />
<path d="M696.6,940.5 L703.0,935.9 L716.4,932.7" stroke-width="3.24" fill="none" />
<path d="M699.1,921.6 L703.0,935.9" stroke-width="2.43" fill="none" />
<path d="M713.0,936.5 L720.0,961.7" stroke-width="4.05" fill="none" />
<path d="M701.1,940.9 L704.4,952.8" stroke-width="2.16" fill="none" />
<path d="M731.9,961.6 L719.7,917.9 L721.1,913.5 L736.7,909.8 L740.2,913.0 L752.4,956.7 Z" stroke-width="3.38" fill="none" />
<path d="M724.2,934.0 L730.6,929.5 L743.9,926.3" stroke-width="3.24" fill="none" />
<path d="M726.6,915.2 L730.6,929.5" stroke-width="2.43" fill="none" />
<path d="M740.6,930.1 L747.6,955.3" stroke-width="4.05" fill="none" />
<path d="M728.7,934.5 L732.0,946.4" stroke-width="2.16" fill="none" />
<path d="M759.4,955.2 L747.3,911.5 L748.7,907.1 L764.2,903.4 L767.8,906.6 L779.9,950.3 Z" stroke-width="3.38" fill="none" />
<path d="M751.7,927.6 L758.1,923.1 L771.5,919.9" stroke-width="3.24" fill="none" />
<path d="M754.2,908.8 L758.1,923.1" stroke-width="2.43" fill="none" />
<path d="M768.1,923.7 L775.1,948.9" stroke-width="4.05" fill="none" />
<path d="M756.2,928.1 L759.5,940.0" stroke-width="2.16" fill="none" />
<path d="M787.0,948.8 L774.8,905.1 L776.2,900.7 L791.8,897.0 L795.3,900.2 L807.5,943.9 Z" stroke-width="3.38" fill="none" />
<path d="M779.3,921.2 L785.7,916.7 L799.0,913.5" stroke-width="3.24" fill="none" />
<path d="M781.7,902.4 L785.7,916.7" stroke-width="2.43" fill="none" />
<path d="M795.7,917.3 L802.7,942.5" stroke-width="4.05" fill="none" />
<path d="M783.8,921.7 L787.1,933.6" stroke-width="2.16" fill="none" />
<path d="M814.5,942.4 L802.4,898.7 L803.8,894.3 L819.3,890.6 L822.9,893.8 L835.0,937.5 Z" stroke-width="3.38" fill="none" />
<path d="M806.8,914.9 L813.2,910.3 L826.6,907.1" stroke-width="3.24" fill="none" />
<path d="M809.3,896.0 L813.2,910.3" stroke-width="2.43" fill="none" />
<path d="M823.2,910.9 L830.2,936.1" stroke-width="4.05" fill="none" />
<path d="M811.3,915.3 L814.6,927.2" stroke-width="2.16" fill="none" />
<path d="M842.1,936.0 L829.9,892.3 L831.3,887.9 L846.9,884.2 L850.4,887.4 L862.6,931.1 Z" stroke-width="3.38" fill="none" />
<path d="M834.4,908.5 L840.8,903.9 L854.1,900.7" stroke-width="3.24" fill="none" />
<path d="M836.8,889.6 L840.8,903.9" stroke-width="2.43" fill="none" />
<path d="M850.8,904.5 L857.8,929.7" stroke-width="4.05" fill="none" />
<path d="M838.9,908.9 L842.2,920.8" stroke-width="2.16" fill="none" />
<path d="M869.6,929.6 L857.5,885.9 L858.9,881.5 L874.4,877.8 L878.0,881.0 L890.1,924.7 Z" stroke-width="3.38" fill="none" />
<path d="M861.9,902.0 L868.3,897.5 L881.7,894.3" stroke-width="3.24" fill="none" />
<path d="M864.4,883.2 L868.3,897.5" stroke-width="2.43" fill="none" />
<path d="M878.3,898.1 L885.3,923.3" stroke-width="4.05" fill="none" />
<path d="M866.4,902.5 L869.7,914.4" stroke-width="2.16" fill="none" />
<path d="M897.2,923.2 L885.0,879.5 L886.4,875.1 L902.0,871.4 L905.5,874.6 L917.7,918.3 Z" stroke-width="3.38" fill="none" />
<path d="M889.5,895.6 L895.9,891.1 L909.2,887.9" stroke-width="3.24" fill="none" />
<path d="M891.9,876.8 L895.9,891.1" stroke-width="2.43" fill="none" />
<path d="M905.9,891.7 L912.9,916.9" stroke-width="4.05" fill="none" />
<path d="M894.0,896.1 L897.3,908.0" stroke-width="2.16" fill="none" />
<path d="M924.7,916.8 L912.6,873.1 L914.0,868.7 L929.5,865.0 L933.1,868.2 L945.2,911.9 Z" stroke-width="3.38" fill="none" />
<path d="M917.0,889.2 L923.4,884.7 L936.8,881.5" stroke-width="3.24" fill="none" />
<path d="M919.5,870.4 L923.4,884.7" stroke-width="2.43" fill="none" />
<path d="M933.4,885.3 L940.4,910.5" stroke-width="4.05" fill="none" />
<path d="M921.5,889.7 L924.8,901.6" stroke-width="2.16" fill="none" />
<path d="M952.2,910.4 L940.1,866.7 L941.5,862.3 L957.1,858.6 L960.6,861.8 L972.8,905.5 Z" stroke-width="3.38" fill="none" />
<path d="M944.6,882.9 L951.0,878.3 L964.3,875.1" stroke-width="3.24" fill="none" />
<path d="M947.0,864.0 L951.0,878.3" stroke-width="2.43" fill="none" />
<path d="M961.0,878.9 L968.0,904.1" stroke-width="4.05" fill="none" />
<path d="M949.1,883.3 L952.4,895.2" stroke-width="2.16" fill="none" />
<text transform="matrix(0.974 -0.228 0.27 0.963 666.0 999.0)" x="0" y="10.5" font-size="29" font-weight="bold" text-anchor="middle" stroke="#000" stroke-width="1.1" fill="#000" >1</text>
<text transform="matrix(0.974 -0.228 0.27 0.963 693.0 992.64)" x="0" y="10.5" font-size="29" font-weight="bold" text-anchor="middle" stroke="#000" stroke-width="1.1" fill="#000" >2</text>
<text transform="matrix(0.974 -0.228 0.27 0.963 720.0 986.28)" x="0" y="10.5" font-size="29" font-weight="bold" text-anchor="middle" stroke="#000" stroke-width="1.1" fill="#000" >3</text>
<text transform="matrix(0.974 -0.228 0.27 0.963 747.0 979.92)" x="0" y="10.5" font-size="29" font-weight="bold" text-anchor="middle" stroke="#000" stroke-width="1.1" fill="#000" >4</text>
<text transform="matrix(0.974 -0.228 0.27 0.963 774.0 973.56)" x="0" y="10.5" font-size="29" font-weight="bold" text-anchor="middle" stroke="#000" stroke-width="1.1" fill="#000" >5</text>
<text transform="matrix(0.974 -0.228 0.27 0.963 801.0 967.2)" x="0" y="10.5" font-size="29" font-weight="bold" text-anchor="middle" stroke="#000" stroke-width="1.1" fill="#000" >6</text>
<text transform="matrix(0.974 -0.228 0.27 0.963 828.0 960.84)" x="0" y="10.5" font-size="29" font-weight="bold" text-anchor="middle" stroke="#000" stroke-width="1.1" fill="#000" >7</text>
<text transform="matrix(0.974 -0.228 0.27 0.963 855.0 954.48)" x="0" y="10.5" font-size="29" font-weight="bold" text-anchor="middle" stroke="#000" stroke-width="1.1" fill="#000" >8</text>
<text transform="matrix(0.974 -0.228 0.27 0.963 882.0 948.12)" x="0" y="10.5" font-size="29" font-weight="bold" text-anchor="middle" stroke="#000" stroke-width="1.1" fill="#000" >9</text>
<text transform="matrix(0.974 -0.228 0.27 0.963 909.0 941.76)" x="0" y="10.5" font-size="29" font-weight="bold" text-anchor="middle" stroke="#000" stroke-width="2.0" fill="#000" textLength="19" lengthAdjust="spacingAndGlyphs">10</text>
<text transform="matrix(0.974 -0.228 0.27 0.963 936.0 935.4)" x="0" y="10.5" font-size="29" font-weight="bold" text-anchor="middle" stroke="#000" stroke-width="2.0" fill="#000" textLength="19" lengthAdjust="spacingAndGlyphs">11</text>
<text transform="matrix(0.974 -0.228 0.27 0.963 963.0 929.04)" x="0" y="10.5" font-size="29" font-weight="bold" text-anchor="middle" stroke="#000" stroke-width="2.0" fill="#000" textLength="19" lengthAdjust="spacingAndGlyphs">12</text>
<path d="M688.0,1009.0 L758.0,994.0" stroke-width="2.70" fill="none" />
<path d="M767.0,992.0 L840.0,975.0" stroke-width="2.70" fill="none" />
<path d="M852.0,973.0 L893.0,963.0" stroke-width="2.70" fill="none" />
<path d="M907.0,960.0 L977.0,944.0" stroke-width="2.70" fill="none" />
<path d="M829.0,1149.0 C830.6,1154.3 835.5,1172.4 838.7,1180.7 C841.9,1189.0 843.3,1193.3 848.0,1199.0 C852.7,1204.7 860.2,1211.7 866.7,1215.0 C873.2,1218.3 880.0,1219.4 886.7,1219.0 C893.4,1218.6 901.2,1216.4 906.7,1212.7 C912.2,1209.0 917.1,1202.7 920.0,1196.7 C922.9,1190.7 923.8,1181.2 924.0,1176.7 C924.2,1172.2 921.5,1171.1 921.0,1170.0" stroke-width="3.51" fill="none" />
<path d="M921.0,1170.0 L910.7,1129.0" stroke-width="3.51" fill="none" />
<path d="M829.0,1149.0 L910.7,1129.0" stroke-width="3.51" fill="none" />
<ellipse cx="882" cy="1171" rx="21" ry="26" stroke-width="3" transform="rotate(-22 882 1171)"/>
<ellipse cx="880" cy="1172" rx="14" ry="18.5" stroke-width="2.8" transform="rotate(-22 880 1172)"/>
<path d="M772.0,1174.0 L790.0,1233.0" stroke-width="3.51" fill="none" />
<path d="M790.0,1233.0 C791.7,1237.2 795.8,1251.3 800.0,1258.0 C804.2,1264.7 809.5,1269.7 815.0,1273.0 C820.5,1276.3 827.2,1277.7 833.0,1278.0 C838.8,1278.3 844.7,1276.8 850.0,1275.0 C855.3,1273.2 862.5,1268.3 865.0,1267.0" stroke-width="3.51" fill="none" />
<path d="M865.0,1267.0 L905.0,1219.0" stroke-width="3.51" fill="none" />
<path d="M790.0,1233.0 L838.0,1182.0" stroke-width="3.51" fill="none" />
<path d="M805.0,1161.5 L807.0,1169.5" stroke-width="3.24" fill="none" />
<path d="M916.0,1134.0 L913.0,1128.5" stroke-width="3.24" fill="none" />
<path d="M275.0,744.0 L299.0,720.5 L315.0,759.0 L319.5,765.0" stroke-width="2.97" fill="none" />
<path d="M275.0,744.0 L286.5,786.6" stroke-width="2.97" fill="none" />
<path d="M275.0,744.0 L290.0,741.0 L297.0,778.0" stroke-width="2.70" fill="none" />
<path d="M290.0,741.0 L301.0,729.0" stroke-width="2.70" fill="none" />
<path d="M296.0,749.0 L306.0,741.0" stroke-width="2.70" fill="none" />
<path d="M282.0,806.0 L319.5,765.0" stroke-width="2.97" fill="none" />
<path d="M270.0,807.0 L286.5,787.0" stroke-width="2.70" fill="none" />
<path d="M292.0,799.0 C291.5,802.2 287.7,810.8 289.0,818.0 C290.3,825.2 294.5,835.5 300.0,842.0 C305.5,848.5 315.2,854.8 322.0,857.0 C328.8,859.2 336.7,856.2 341.0,855.0 C345.3,853.8 346.8,850.8 348.0,850.0" stroke-width="2.97" fill="none" />
<path d="M341.0,855.0 L352.0,846.0" stroke-width="2.43" fill="none" />
<path d="M360.0,880.0 L352.6,890.0 L361.0,931.6 L349.4,942.3 L341.0,914.5 L330.0,916.7 L311.0,938.0 L321.7,982.8 L318.0,990.0" stroke-width="3.24" fill="none" />
<path d="M330.0,921.0 L338.7,961.5 L351.5,942.0" stroke-width="2.97" fill="none" />
<path d="M827.0,1075.0 L829.0,1092.0" stroke-width="2.97" fill="none" />
<path d="M877.0,1062.0 L851.0,1093.0" stroke-width="4.05" fill="none" />
<path d="M871.0,1064.0 L846.0,1094.0" stroke-width="2.70" fill="none" />
<path d="M937.0,512.0 L976.0,510.5" stroke-width="4.32" fill="none" />
<path d="M369.0,643.5 L389.0,636.5" stroke-width="3.51" fill="none" />
</g>
</svg></body></html>
